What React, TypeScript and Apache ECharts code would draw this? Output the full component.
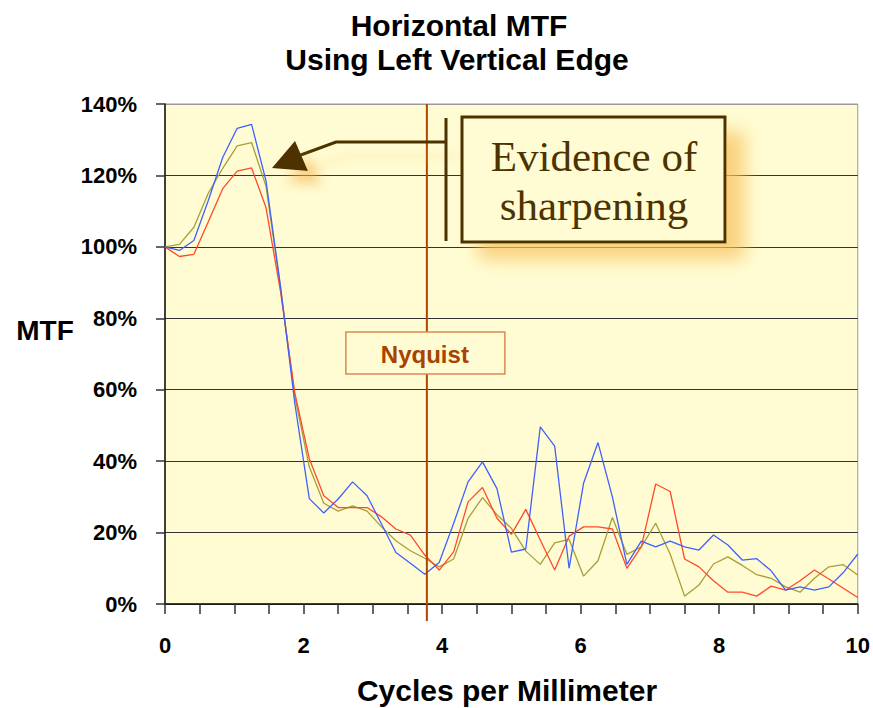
import React, { useEffect, useRef } from "react";
import * as echarts from "echarts";

// Spatial frequency (cycles per millimeter) of each MTF sample
const frequencies = [
  0, 0.208, 0.417, 0.625, 0.833, 1.042, 1.25, 1.458, 1.667, 1.875,
  2.083, 2.292, 2.5, 2.708, 2.917, 3.125, 3.333, 3.542, 3.75, 3.958,
  4.167, 4.375, 4.583, 4.792, 5, 5.208, 5.417, 5.625, 5.833, 6.042,
  6.25, 6.458, 6.667, 6.875, 7.083, 7.292, 7.5, 7.708, 7.917, 8.125,
  8.333, 8.542, 8.75, 8.958, 9.167, 9.375, 9.583, 9.792, 10,
];

// MTF in percent
const blueMTF = [
  100, 99, 101.8, 113, 125, 133.2, 134.3, 118.5, 89, 56,
  29.5, 25.5, 29.4, 34.2, 30.3, 22.4, 14.4, 11.4, 8.3, 11.6,
  22.6, 34.2, 39.8, 32.3, 14.5, 15.4, 49.6, 44.2, 10, 33.8,
  45.2, 30, 11.1, 17.6, 16, 17.6, 16, 15.1, 19.3, 16.5,
  12.3, 12.7, 9.3, 3.9, 4.8, 3.9, 4.8, 8.8, 14,
];
const oliveMTF = [
  100, 100.7, 105.5, 115, 122, 128.3, 129.2, 117, 88.5, 58,
  38.4, 28.2, 26, 27.5, 26, 21.6, 17.7, 14.9, 12.8, 10.4,
  12.6, 24, 29.8, 25, 21.2, 14.8, 11.1, 17.1, 18.1, 7.8,
  12.1, 24.2, 13.9, 16, 22.6, 14, 2.2, 5.3, 11.2, 13.2,
  10.8, 8.2, 7.2, 4.8, 3.3, 7.2, 10.4, 11, 8.1,
];
const redMTF = [
  100, 97.3, 97.9, 107, 116.3, 121.2, 122.1, 111, 87.5, 59,
  40.7, 30.3, 27, 27, 27, 24.4, 21, 19.3, 13.7, 9.5,
  14.6, 28.6, 32.6, 24, 19.5, 26.5, 17.9, 9.5, 19, 21.6,
  21.6, 21, 10, 16, 33.6, 31.5, 12.6, 10.4, 6.5, 3.3,
  3.3, 2.2, 5, 3.9, 6.5, 9.5, 7, 4.4, 1.8,
];

const nyquistFrequency = 3.78;
const titleLines = ["Horizontal MTF", "Using Left Vertical Edge"];
const xAxisTitle = "Cycles per Millimeter";
const yAxisTitle = "MTF";
const nyquistLabel = "Nyquist";
const calloutLines = ["Evidence of", "sharpening"];

const SANS = "'Liberation Sans', Arial, Helvetica, sans-serif";
const SERIF = "'Liberation Serif', 'Times New Roman', serif";
const BROWN = "#4D3300";
const NYQ = "#B04500";

export default function App() {
  const ref = useRef<HTMLDivElement>(null);

  useEffect(() => {
    document.body.style.margin = "0";
    const chart = echarts.init(ref.current!, null, { renderer: "svg" });
    const zip = (ys: number[]) => frequencies.map((f, i) => [f, ys[i]]);

    chart.setOption({
      animation: false,
      backgroundColor: "#ffffff",
      grid: {
        left: 165,
        right: 14,
        top: 104,
        bottom: 104,
        show: true,
        backgroundColor: "#FFFCD3",
        borderColor: "#9a9a9a",
        borderWidth: 1,
      },
      xAxis: {
        type: "value",
        min: 0,
        max: 10,
        interval: 2,
        axisLine: { lineStyle: { color: "#111", width: 1.5 } },
        axisTick: { show: true, inside: false, length: 10, lineStyle: { color: "#333", width: 1.5 } },
        minorTick: { show: true, splitNumber: 4, length: 10, lineStyle: { color: "#333", width: 1.5 } },
        splitLine: { show: false },
        axisLabel: {
          margin: 30,
          fontSize: 22,
          fontWeight: "bold",
          color: "#000",
          fontFamily: SANS,
        },
      },
      yAxis: {
        type: "value",
        min: 0,
        max: 140,
        interval: 20,
        axisLine: { show: true, lineStyle: { color: "#111", width: 1.5 } },
        axisTick: { show: true, inside: false, length: 9, lineStyle: { color: "#333", width: 1.5 } },
        splitLine: {
          show: true,
          lineStyle: {
            color: ["#333", "#333", "#333", "#333", "#333", "#333", "#333", "#9a9a9a"],
            width: 1.2,
          },
        },
        axisLabel: {
          margin: 28,
          fontSize: 22,
          fontWeight: "bold",
          color: "#000",
          fontFamily: SANS,
          formatter: "{value}%",
        },
      },
      series: [
        {
          type: "line",
          name: "olive",
          data: zip(oliveMTF),
          showSymbol: false,
          symbol: "none",
          lineStyle: { color: "#A89E38", width: 1.3 },
          z: 2,
        },
        {
          type: "line",
          name: "red",
          data: zip(redMTF),
          showSymbol: false,
          symbol: "none",
          lineStyle: { color: "#FF4A2A", width: 1.3 },
          z: 3,
        },
        {
          type: "line",
          name: "blue",
          data: zip(blueMTF),
          showSymbol: false,
          symbol: "none",
          lineStyle: { color: "#4060FF", width: 1.3 },
          z: 4,
        },
      ],
    });

    const nx = chart.convertToPixel({ xAxisIndex: 0 }, nyquistFrequency) as number;
    const yTop = chart.convertToPixel({ yAxisIndex: 0 }, 140) as number;
    const yBottom = chart.convertToPixel({ yAxisIndex: 0 }, 0) as number;

    chart.setOption({
      graphic: {
        elements: [
          // title
          {
            type: "text",
            x: 459,
            y: 25,
            z: 30,
            style: {
              text: titleLines[0],
              font: `bold 30px ${SANS}`,
              fill: "#000",
              textAlign: "center",
              textVerticalAlign: "middle",
            },
          },
          {
            type: "text",
            x: 457,
            y: 59,
            z: 30,
            style: {
              text: titleLines[1],
              font: `bold 30px ${SANS}`,
              fill: "#000",
              textAlign: "center",
              textVerticalAlign: "middle",
            },
          },
          // axis titles
          {
            type: "text",
            x: 45,
            y: 330,
            z: 30,
            style: {
              text: yAxisTitle,
              font: `bold 28px ${SANS}`,
              fill: "#000",
              textAlign: "center",
              textVerticalAlign: "middle",
            },
          },
          {
            type: "text",
            x: 507,
            y: 690,
            z: 30,
            style: {
              text: xAxisTitle,
              font: `bold 30px ${SANS}`,
              fill: "#000",
              textAlign: "center",
              textVerticalAlign: "middle",
            },
          },
          // Nyquist line
          {
            type: "line",
            z: 10,
            shape: { x1: nx, y1: yTop, x2: nx, y2: yBottom + 17 },
            style: { stroke: NYQ, lineWidth: 2 },
          },
          // Nyquist label
          {
            type: "rect",
            z: 11,
            shape: { x: nx - 81, y: 332, width: 159, height: 42 },
            style: { fill: "#FFFCD3", stroke: "#D98A55", lineWidth: 1.5 },
          },
          {
            type: "text",
            z: 12,
            x: nx - 2,
            y: 354,
            style: {
              text: nyquistLabel,
              font: `bold 24px ${SANS}`,
              fill: "#A84300",
              textAlign: "center",
              textVerticalAlign: "middle",
            },
          },
          // callout arrow
          {
            type: "polyline",
            z: 20,
            shape: { points: [[446, 142], [336, 142], [298, 156]] },
            style: {
              stroke: BROWN,
              lineWidth: 3,
              fill: null,
              shadowBlur: 10,
              shadowColor: "rgba(245,190,90,0.35)",
              shadowOffsetX: 12,
              shadowOffsetY: 14,
            },
          },
          {
            type: "polygon",
            z: 21,
            shape: { points: [[272, 168], [295, 141], [308, 171]] },
            style: {
              fill: BROWN,
              shadowBlur: 12,
              shadowColor: "rgba(245,180,80,0.6)",
              shadowOffsetX: 14,
              shadowOffsetY: 14,
            },
          },
          {
            type: "line",
            z: 20,
            shape: { x1: 446, y1: 118, x2: 446, y2: 241 },
            style: { stroke: BROWN, lineWidth: 3 },
          },
          // callout box
          {
            type: "rect",
            z: 20,
            shape: { x: 462, y: 117, width: 263, height: 125 },
            style: {
              fill: "#FFFCD3",
              stroke: BROWN,
              lineWidth: 3,
              shadowBlur: 18,
              shadowColor: "rgba(248,195,95,0.75)",
              shadowOffsetX: 18,
              shadowOffsetY: 16,
            },
          },
          {
            type: "text",
            z: 22,
            x: 594,
            y: 156,
            style: {
              text: calloutLines[0],
              font: `43px ${SERIF}`,
              fill: BROWN,
              textAlign: "center",
              textVerticalAlign: "middle",
            },
          },
          {
            type: "text",
            z: 22,
            x: 594,
            y: 205,
            style: {
              text: calloutLines[1],
              font: `43px ${SERIF}`,
              fill: BROWN,
              textAlign: "center",
              textVerticalAlign: "middle",
            },
          },
        ],
      },
    });

    return () => chart.dispose();
  }, []);

  return <div ref={ref} style={{ width: 873, height: 708 }} />;
}
